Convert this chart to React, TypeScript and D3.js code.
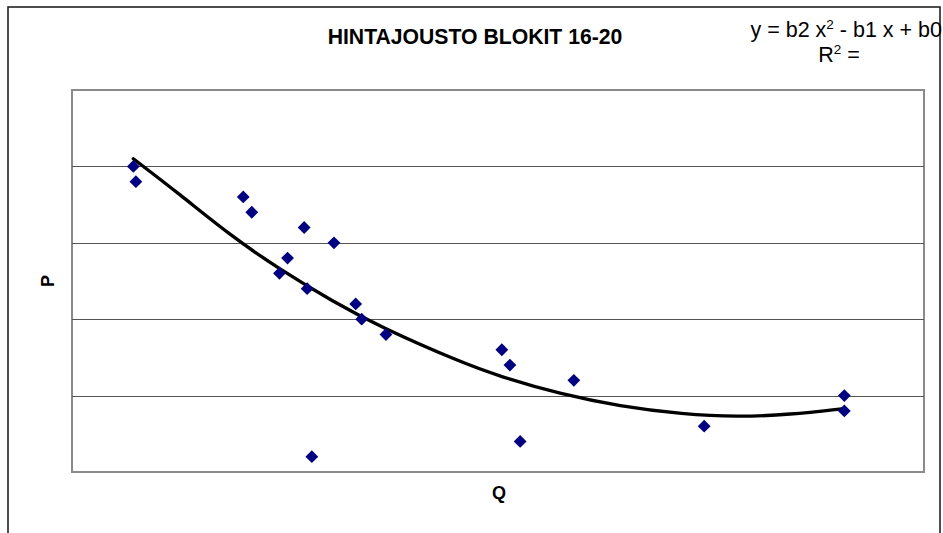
import React from 'react';
import * as d3 from 'd3';

// scatter points (Q, P)
const qValues = [1.44, 1.5, 4.02, 4.22, 5.45, 6.15, 5.06, 4.87, 5.52, 6.66, 6.8, 7.37, 5.63, 10.09, 10.28, 11.78, 10.52, 14.84, 18.13, 18.13];
const pValues = [4.0, 3.8, 3.6, 3.4, 3.2, 3.0, 2.8, 2.6, 2.4, 2.2, 2.0, 1.8, 0.2, 1.6, 1.4, 1.2, 0.4, 0.6, 1.0, 0.8];

// polynomial trendline
const trendQ = [1.44, 2.54, 3.71, 4.88, 6.13, 7.23, 9.11, 10.05, 11.46, 12.86, 14.34, 15.63, 16.85, 18.12];
const trendP = [4.1, 3.63, 3.1, 2.65, 2.23, 1.9, 1.44, 1.25, 1.02, 0.86, 0.755, 0.72, 0.75, 0.83];

const gridValues = [1, 2, 3, 4];

const title = 'HINTAJOUSTO BLOKIT 16-20';
const xLabel = 'Q';
const yLabel = 'P';

const W = 943;
const H = 533;
const plot = { left: 72, top: 90, right: 924, bottom: 472 };

const App = () => {
  const x = d3.scaleLinear().domain([0, 20]).range([plot.left, plot.right]);
  const y = d3.scaleLinear().domain([0, 5]).range([plot.bottom, plot.top]);

  const points = qValues.map((q, i) => ({ q, p: pValues[i] }));
  const trend = trendQ.map((q, i) => ({ q, p: trendP[i] }));

  const line = d3
    .line<{ q: number; p: number }>()
    .x(d => x(d.q))
    .y(d => y(d.p))
    .curve(d3.curveBasis);

  const diamond = d3.symbol().type(d3.symbolSquare).size(82)();

  const font = 'Arial, "Liberation Sans", sans-serif';

  return (
    <svg
      width={W}
      height={H}
      style={{ position: 'absolute', left: 0, top: 0, background: '#fff' }}
    >
      {/* outer chart frame */}
      <rect x={8} y={7} width={932} height={560} fill="#fff" stroke="#222" strokeWidth={1.6} />

      {/* plot area */}
      <rect
        x={plot.left}
        y={plot.top}
        width={plot.right - plot.left}
        height={plot.bottom - plot.top}
        fill="#fff"
        stroke="#8a8a8a"
        strokeWidth={2}
      />

      {/* gridlines */}
      {gridValues.map(v => (
        <line
          key={v}
          x1={plot.left}
          x2={plot.right}
          y1={Math.round(y(v)) + 0.5}
          y2={Math.round(y(v)) + 0.5}
          stroke="#555"
          strokeWidth={1}
        />
      ))}

      {/* trendline */}
      <path d={line(trend) || ''} fill="none" stroke="#000" strokeWidth={3.4} strokeLinejoin="round" strokeLinecap="round" />

      {/* points */}
      {points.map((d, i) => (
        <path
          key={i}
          d={diamond || ''}
          transform={`translate(${x(d.q)},${y(d.p)}) rotate(45)`}
          fill="#000080"
        />
      ))}

      {/* title */}
      <text x={475} y={44} textAnchor="middle" fontFamily={font} fontWeight="bold" fontSize={21.2} fill="#000">
        {title}
      </text>

      {/* equation */}
      <text x={942} y={37} textAnchor="end" fontFamily={font} fontSize={21.5} fill="#000">
        y = b2 x<tspan fontSize={13.5} dy={-8}>2</tspan>
        <tspan dy={8}> - b1 x + b0</tspan>
      </text>
      <text x={839} y={62} textAnchor="middle" fontFamily={font} fontSize={21.5} fill="#000">
        R<tspan fontSize={13.5} dy={-8}>2</tspan>
        <tspan dy={8}> =</tspan>
      </text>

      {/* axis labels */}
      <text
        transform={`translate(54,281) rotate(-90)`}
        textAnchor="middle"
        fontFamily={font}
        fontWeight="bold"
        fontSize={18}
        fill="#000"
      >
        {yLabel}
      </text>
      <text x={499} y={499} textAnchor="middle" fontFamily={font} fontWeight="bold" fontSize={18} fill="#000">
        {xLabel}
      </text>
    </svg>
  );
};

export default App;
